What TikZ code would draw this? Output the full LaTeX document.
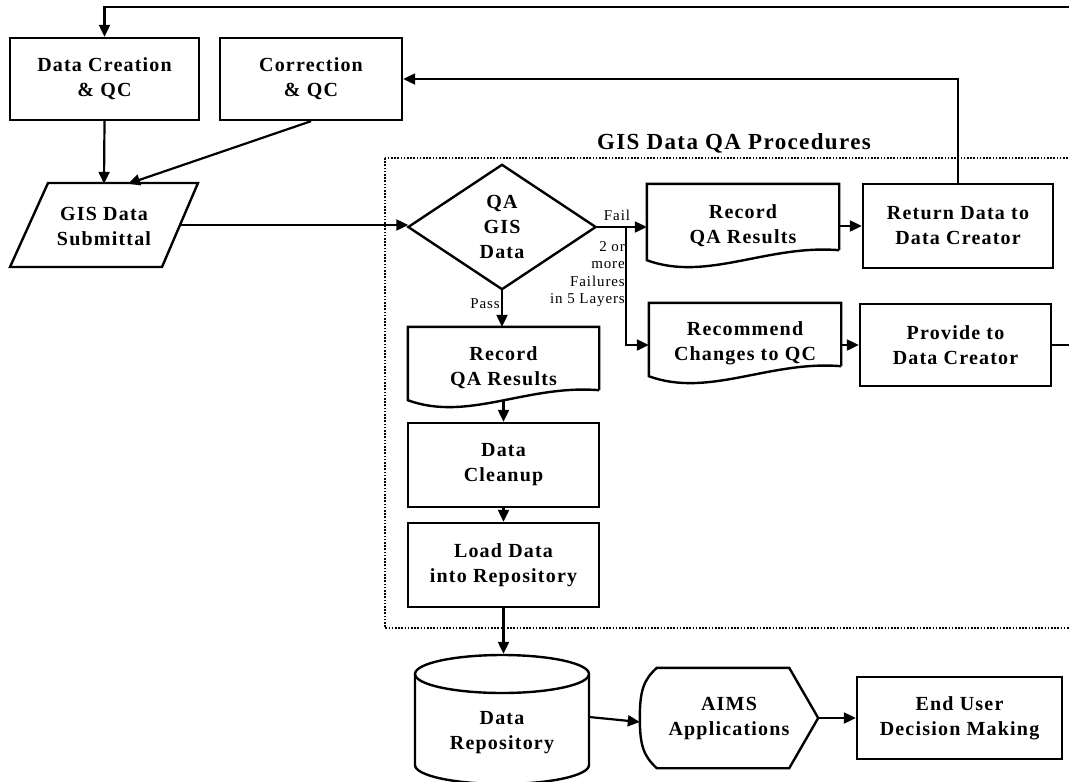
\documentclass[tikz,border=0pt]{standalone}
\usepackage{fontspec}
\setmainfont{Liberation Serif}[LetterSpace=6]
\usetikzlibrary{arrows.meta,calc}
\newcommand\bxfont{\bfseries\fontsize{20}{25}\selectfont}
\newcommand\lblfont{\fontsize{15}{17.5}\selectfont}
\newcommand\docshape[1]{\draw[shp] ([yshift=18]#1.south east) -- (#1.north east) -- (#1.north west) -- ([yshift=8]#1.south west) .. controls ([xshift=60,yshift=-14]#1.south west) and ([xshift=-72,yshift=24]#1.south east) .. ([yshift=18]#1.south east);}
\tikzset{
  bx/.style={draw, line width=2.4pt, inner sep=0pt, align=center, font=\bxfont},
  ghost/.style={inner sep=0pt, align=center, font=\bxfont},
  shp/.style={draw, line width=2.4pt, line join=miter},
  arr/.style={line width=2.2pt, -{Triangle[length=12pt,width=11pt]}},
  lbl/.style={font=\lblfont, inner sep=0pt},
  dotbox/.style={line width=2.2pt, dash pattern=on 1.6pt off 1.6pt}
}
\begin{document}
\begin{tikzpicture}[x=1pt,y=-1pt]
\useasboundingbox (0,0) rectangle (1069,782);
% dotted QA region
\draw[dotbox] (385,158) rectangle (1090,628);
\node[font=\bfseries\fontsize{23}{27}\selectfont, anchor=base, inner sep=0pt] (title) at (734,149) {GIS Data QA Procedures};

% top row
\node[bx, minimum width=189, minimum height=82] (create) at (104.5,79) {Data Creation\\\& QC};
\node[bx, minimum width=182, minimum height=82] (corr) at (311,79) {Correction\\\& QC};

% submittal
\node[ghost, minimum width=152, minimum height=84] (subm) at (104,226) {GIS Data\\Submittal};
\draw[shp] (48,183) -- (198,183) -- (162,267) -- (10,267) -- cycle;

% decision
\node[ghost, minimum width=187, minimum height=124] (qa) at (502,227) {QA\\GIS\\Data};
\draw[shp] (qa.west) -- (qa.north) -- (qa.east) -- (qa.south) -- cycle;

% right branch
\node[ghost, minimum width=192, minimum height=84] (rec1) at (743,226) {Record\\QA Results};
\docshape{rec1}
\node[bx, minimum width=190, minimum height=84] (ret) at (958,226) {Return Data to\\Data Creator};
\node[ghost, minimum width=192, minimum height=81] (rec2) at (745,343.5) {Recommend\\Changes to QC};
\docshape{rec2}
\node[bx, minimum width=191, minimum height=82] (prov) at (955.5,345) {Provide to\\Data Creator};

% left column
\node[ghost, minimum width=191, minimum height=81] (rec3) at (503.5,367.5) {Record\\QA Results};
\docshape{rec3}
\node[bx, minimum width=191, minimum height=84] (clean) at (503.5,465) {Data\\Cleanup};
\node[bx, minimum width=191, minimum height=84] (load) at (503.5,565) {Load Data\\into Repository};

% repository cylinder
\node[ghost, minimum width=174, minimum height=128] (repo) at (502,718) {};
\draw[shp] (415,674) -- (415,765) arc[start angle=180, end angle=360, x radius=87pt, y radius=19pt] -- (589,674);
\draw[shp] (502,674) ellipse [x radius=87pt, y radius=19pt];
\node[ghost] (repotxt) at (502,733) {Data\\Repository};

% AIMS display
\node[ghost, minimum width=178, minimum height=100] (aims) at (729,718) {AIMS\\Applications};
\draw[shp] ([xshift=17]aims.north west) -- ([xshift=-29]aims.north east) -- (aims.east) -- ([xshift=-29]aims.south east) -- ([xshift=17]aims.south west) .. controls ([xshift=4,yshift=12]aims.south west) and ([yshift=-28]aims.west) .. (aims.west) .. controls ([yshift=28]aims.west) and ([xshift=4,yshift=-12]aims.north west) .. ([xshift=17]aims.north west) -- cycle;

\node[bx, minimum width=205, minimum height=82] (enduser) at (959.5,718) {End User\\Decision Making};

% connectors
\draw[arr] (prov.east) -- ++(40,0) |- ([yshift=30]create.north) -- (create.north);
\draw[arr] (ret.north) |- (corr.east);
\draw[arr] (create.south) -- (subm.north);
\draw[arr] (corr.south) -- ([xshift=24]subm.north);
\draw[arr] ([yshift=1]subm.east) -- ([yshift=1]subm.east -| qa.west);
\draw[arr] (qa.east) -- (qa.east -| rec1.west);
\coordinate (br) at ($(qa.east)+(30,0)$);
\draw[arr] (br) |- (rec2.west |- prov.west);
\draw[arr] (rec1.east |- ret.west) -- (ret.west);
\draw[arr] (rec2.east |- prov.west) -- (prov.west);
\draw[arr] (qa.south) -- (qa.south |- rec3.north);
\draw[arr] ([yshift=7]rec3.south) -- (clean.north);
\draw[arr] (clean.south) -- (load.north);
\draw[arr] (load.south) -- (load.south |- repo.north);
\draw[arr] ([yshift=1]repo.east) -- ([yshift=-4]aims.west);
\draw[arr] (aims.east) -- (enduser.west);

% labels
\node[lbl, anchor=base] (fail) at (617,220) {Fail};
\node[lbl, anchor=base] (pass) at (485,308) {Pass};
\node[lbl, anchor=north east, align=right] (fl) at (625,241) {2 or\\more\\Failures\\in 5 Layers};
\end{tikzpicture}
\end{document}
